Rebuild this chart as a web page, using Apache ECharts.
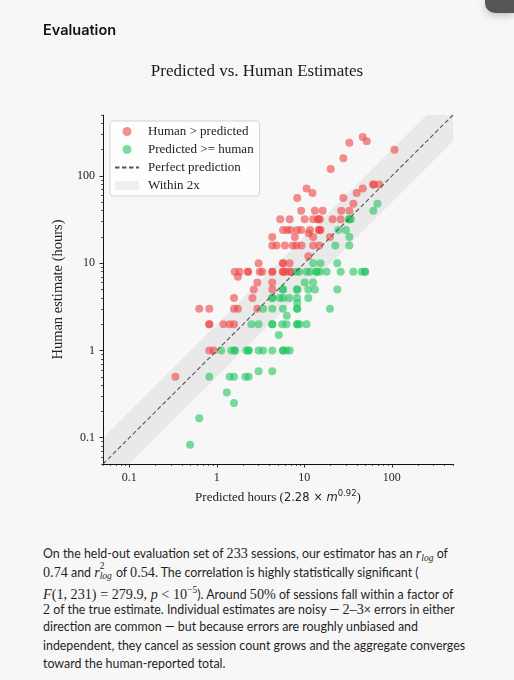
<!DOCTYPE html>
<html>
<head>
<meta charset="utf-8">
<script src="https://cdn.jsdelivr.net/npm/echarts@6.0.0/dist/echarts.min.js"></script>
<style>
    html, body { margin: 0; padding: 0; background: #f8f7f7; }
    body { width: 514px; height: 680px; position: relative; overflow: hidden; }
    #heading { position: absolute; left: 43px; top: 21px; font-family: Inter, "Noto Sans", sans-serif; font-weight: 600; font-size: 14.5px; color: #111; }
    #chart { position: absolute; left: 0; top: 0; width: 514px; height: 530px; }
    #text { position: absolute; left: 43px; top: 544px; font-family: Lato, "Noto Sans", sans-serif; font-size: 12.4px; color: #1f1f1f; }
    #text div { height: 18.5px; line-height: 18.5px; white-space: nowrap; }
    .m { font-family: "Liberation Serif", serif; font-size: 14.2px; }
    .mi { font-family: "Liberation Serif", serif; font-style: italic; font-size: 14.2px; }
    .sub { font-family: "Liberation Serif", serif; font-style: italic; font-size: 9.5px; vertical-align: -3px; }
    .ss { display: inline-block; position: relative; width: 13px; height: 10px; font-family: "Liberation Serif", serif; font-size: 9.5px; line-height: 10px; }
    .ss .up { position: absolute; left: 0; top: -6px; }
    .ss .dn { position: absolute; left: 0; top: 4px; font-style: italic; }
    #corner { position: absolute; right: 0; top: 0; width: 29px; height: 13px; background: #555; border-bottom-left-radius: 10px; box-shadow: 0 2px 8px rgba(0,0,0,0.25); }
</style>
</head>
<body>
<div id="chart"></div>
<div id="heading">Evaluation</div>
<div id="corner"></div>
<div id="text">
    <div>On the held-out evaluation set of <span class="m">233</span> sessions, our estimator has an <span class="mi">r</span><span class="sub">log</span> of</div>
    <div><span class="m">0.74</span> and <span class="mi">r</span><span class="ss"><span class="up">2</span><span class="dn">log</span></span> of <span class="m">0.54</span>. The correlation is highly statistically significant (</div>
    <div><span class="mi">F</span><span class="m">(1, 231) = 279.9, </span><span class="mi">p</span><span class="m"> &lt; 10<sup style="font-size:9.5px">−5</sup></span>). Around <span class="m">50%</span> of sessions fall within a factor of</div>
    <div><span class="m">2</span> of the true estimate. Individual estimates are noisy — <span class="m">2–3</span>× errors in either</div>
    <div>direction are common — but because errors are roughly unbiased and</div>
    <div>independent, they cancel as session count grows and the aggregate converges</div>
    <div>toward the human-reported total.</div>
</div>
<script>
    // [predicted hours, human estimate hours]
    var humanAbove = [
        [46.5, 280], [51.7, 250], [32.7, 240], [107, 200], [27.9, 160], [20, 120],
        [61.5, 80], [61.5, 80], [72, 80],
        [10.6, 72], [46.5, 72],
        [12.4, 64], [39.7, 64],
        [8.3, 56], [27.9, 56],
        [36.3, 48],
        [9.2, 40], [13.2, 40], [16.2, 40], [26.4, 40], [32.7, 40],
        [5.3, 32], [6.8, 32], [10.1, 32], [12.6, 32], [14.4, 32], [14.4, 32], [15.1, 32], [21, 32], [26, 32],
        [5.7, 24], [6.35, 24], [6.95, 24], [8.27, 24], [9.2, 24], [11.6, 24], [14.8, 24], [14.8, 24], [15.3, 24],
        [11.2, 22],
        [4.3, 20], [7.8, 20], [12.6, 20], [19.6, 20],
        [4.3, 16], [4.8, 16], [6, 16], [7.4, 16], [8.1, 16], [9.3, 16], [12.6, 16], [14.8, 16],
        [11.1, 12],
        [3, 10], [5.7, 10], [5.7, 10], [6.8, 10],
        [1.6, 8], [1.82, 8], [2.27, 8], [2.27, 8], [3.09, 8], [3.31, 8], [4.3, 8], [4.3, 8],
        [5.7, 8], [5.7, 8], [6.1, 8], [6.7, 8], [7.1, 8],
        [1.74, 7],
        [2.9, 6], [4.3, 6],
        [2.64, 5], [4.3, 5],
        [1.57, 4], [2.55, 4],
        [0.63, 3], [0.82, 3], [1.57, 3], [1.74, 3], [2.9, 3],
        [0.82, 2], [0.82, 2], [1.19, 2], [1.4, 2], [1.57, 2],
        [0.82, 1], [0.92, 1],
        [0.336, 0.5]
    ];
    var predAbove = [
        [68.4, 48], [61.5, 40],
        [32.5, 32], [32.5, 32], [34, 32],
        [24.5, 24], [29.9, 24],
        [32.7, 20],
        [22.6, 16], [32.7, 16],
        [12.6, 10], [15.3, 10], [23.8, 10],
        [8.1, 8], [8.7, 8], [10.6, 8], [11.6, 8], [13.8, 8], [13.8, 8], [15.1, 8], [18, 8],
        [26, 8], [36.3, 8], [45.3, 8], [49.4, 8], [49.4, 8],
        [10.1, 6], [12.6, 6],
        [5.7, 5], [5.7, 5], [8.27, 5], [8.27, 5], [11.1, 5], [13.2, 5], [23.8, 5],
        [4.3, 4], [4.3, 4], [5.25, 4], [5.7, 4], [6.7, 4], [8.27, 4], [11.1, 4],
        [8.27, 3.5],
        [3.38, 3], [4.3, 3], [5.7, 3], [8.27, 3], [8.27, 3], [19.6, 3],
        [6.3, 2.5],
        [2.48, 2], [3, 2], [4.3, 2], [4.3, 2], [5.6, 2], [6.25, 2], [8.27, 2], [8.27, 2], [8.8, 2], [10.6, 2],
        [5.1, 1.5],
        [1.12, 1], [1.46, 1], [1.6, 1], [1.6, 1], [2.17, 1], [2.31, 1], [2.31, 1], [3, 1], [3.38, 1],
        [4.3, 1], [5.7, 1], [5.7, 1], [6.25, 1], [6.8, 1],
        [3, 0.58], [4.3, 0.58],
        [0.82, 0.5], [1.4, 0.5], [1.57, 0.5], [2.12, 0.5], [2.31, 0.5],
        [1.3, 0.33], [1.57, 0.25], [0.63, 0.167], [0.495, 0.083]
    ];
    var axisMin = 0.05;
    var axisMax = 500;
    var majorTicks = [0.1, 1, 10, 100];
    var bandFactor = 2;
    var bandX = [0.01, 1000];

    var minorTicks = [];
    for (var k = -2; k <= 2; k++) {
        for (var m = 2; m <= 9; m++) {
            var v = +(m * Math.pow(10, k)).toPrecision(3);
            if (v >= axisMin && v <= axisMax) minorTicks.push(v);
        }
    }

    // band polygon: upper edge y = 2x, lower edge y = x/2
    var bandPts = [];
    bandX.forEach(function (x) { bandPts.push([x, x * bandFactor]); });
    bandX.slice().reverse().forEach(function (x) { bandPts.push([x, x / bandFactor]); });

    var serif = '"Liberation Serif", "Times New Roman", serif';
    var ink = '#111';
    var red = '#ef4444';
    var green = '#22c55e';
    var bandColor = 'rgba(128,128,128,0.12)';

    function fmt(v) {
        return v < 1 ? String(+v.toPrecision(3)) : String(Math.round(v));
    }

    function majorAxis(extra) {
        return Object.assign({
            type: 'log', logBase: 10, min: axisMin, max: axisMax,
            nameLocation: 'middle',
            axisLine: {show: true, onZero: false, lineStyle: {color: ink, width: 1}},
            axisTick: {show: true, inside: false, length: 3.5, customValues: majorTicks,
                lineStyle: {color: ink, width: 0.9}},
            axisLabel: {customValues: majorTicks, formatter: fmt, fontFamily: serif,
                fontSize: 12, color: '#222', margin: 8},
            splitLine: {show: false}
        }, extra);
    }

    function minorAxis(extra) {
        return Object.assign({
            type: 'log', logBase: 10, min: axisMin, max: axisMax,
            axisLine: {show: false},
            axisTick: {show: true, inside: false, length: 2, customValues: minorTicks,
                lineStyle: {color: ink, width: 0.7}},
            axisLabel: {show: false},
            splitLine: {show: false}
        }, extra);
    }

    var chart = echarts.init(document.getElementById('chart'), null, {renderer: 'canvas'});
    chart.setOption({
        animation: false,
        title: {
            text: 'Predicted vs. Human Estimates',
            left: 'center', top: 58,
            textStyle: {fontFamily: serif, fontSize: 17, fontWeight: 'normal', color: '#1a1a1a'}
        },
        grid: {left: 103, top: 115, right: 61, bottom: 66},
        legend: {
            orient: 'vertical', left: 110, top: 121,
            padding: [4, 6, 4, 4],
            itemWidth: 24, itemHeight: 9, itemGap: 5,
            backgroundColor: 'rgba(255,255,255,0.8)',
            borderColor: '#d3d3d3', borderWidth: 1, borderRadius: 3,
            selectedMode: false,
            textStyle: {fontFamily: serif, fontSize: 13, color: '#222', lineHeight: 12, padding: [0, 0, 0, 4]},
            data: [
                {name: 'Human > predicted', icon: 'circle', itemStyle: {color: red, opacity: 0.6}},
                {name: 'Predicted >= human', icon: 'circle', itemStyle: {color: green, opacity: 0.6}},
                {name: 'Perfect prediction', itemStyle: {opacity: 0}},
                {name: 'Within 2x', icon: 'rect', itemStyle: {color: bandColor}}
            ]
        },
        xAxis: [
            majorAxis({
                name: '{t|Predicted hours (}{m|2.28 × }{i|m}{s|0.92}{t|)}',
                nameGap: 25,
                nameTextStyle: {
                    rich: {
                        t: {fontFamily: serif, fontSize: 13, color: '#222', lineHeight: 18},
                        m: {fontFamily: '"DejaVu Sans"', fontSize: 11.5, color: '#222', lineHeight: 18},
                        i: {fontFamily: '"DejaVu Sans"', fontStyle: 'italic', fontSize: 11.5, color: '#222', lineHeight: 18},
                        s: {fontFamily: '"DejaVu Sans"', fontSize: 8.5, color: '#222', lineHeight: 10, verticalAlign: 'top'}
                    }
                }
            }),
            minorAxis({position: 'bottom'})
        ],
        yAxis: [
            majorAxis({
                name: 'Human estimate (hours)',
                nameGap: 32,
                nameTextStyle: {fontFamily: serif, fontSize: 14.5, color: '#222'}
            }),
            minorAxis({position: 'left'})
        ],
        series: [
            {
                name: 'Within 2x',
                type: 'custom',
                clip: true,
                silent: true,
                z: 1,
                data: [[1, 1]],
                renderItem: function (params, api) {
                    var pts = bandPts.map(function (p) { return api.coord(p); });
                    return {type: 'polygon', shape: {points: pts}, style: {fill: bandColor}};
                }
            },
            {
                name: 'Human > predicted',
                type: 'scatter',
                z: 2,
                symbolSize: 8,
                itemStyle: {color: red, opacity: 0.6},
                data: humanAbove
            },
            {
                name: 'Predicted >= human',
                type: 'scatter',
                z: 2,
                symbolSize: 8,
                itemStyle: {color: green, opacity: 0.6},
                data: predAbove
            },
            {
                name: 'Perfect prediction',
                type: 'line',
                z: 3,
                silent: true,
                symbol: 'none',
                itemStyle: {color: '#555'},
                lineStyle: {color: '#555', width: 1.1, type: [4.5, 2.5]},
                data: [[axisMin, axisMin], [axisMax, axisMax]]
            }
        ]
    });
</script>
</body>
</html>
